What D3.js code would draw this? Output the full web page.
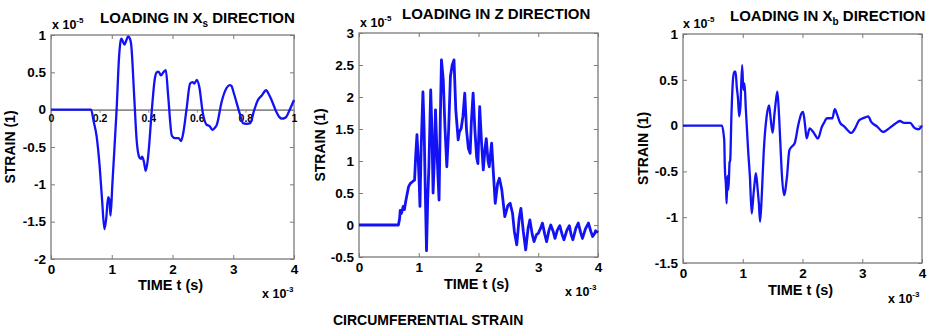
<!DOCTYPE html>
<html><head><meta charset="utf-8">
<script src="https://cdn.jsdelivr.net/npm/d3@7"></script>
<style>
body{margin:0;background:#fff;}
svg text{font-family:"Liberation Sans",Arial,Helvetica,sans-serif;font-weight:bold;fill:#000;}
</style></head>
<body><svg id="c" width="931" height="329"></svg>
<script>
// ---- DATA (time in ms i.e. x10^-3 s, strain in x10^-5) ----
const xTicks = [0, 1, 2, 3, 4];
const innerTicks = [0, 0.2, 0.4, 0.6, 0.8, 1];

const xsTime = [0,0.66,0.70,0.75,0.80,0.84,0.88,0.91,0.94,0.96,0.98,1.01,1.03,1.08,1.12,1.14,1.16,1.18,1.21,1.24,1.27,1.30,1.32,1.37,1.41,1.45,1.48,1.50,1.53,1.56,1.60,1.66,1.71,1.74,1.77,1.81,1.85,1.89,1.93,1.99,2.04,2.10,2.14,2.18,2.23,2.29,2.33,2.36,2.40,2.44,2.50,2.56,2.61,2.66,2.70,2.73,2.81,2.89,2.94,2.97,3.01,3.11,3.16,3.22,3.28,3.34,3.40,3.47,3.54,3.59,3.63,3.71,3.76,3.80,3.85,3.87,3.93,4.0];
const xsStrain = [0,0,-0.15,-0.35,-0.75,-1.2,-1.60,-1.45,-1.17,-1.2,-1.42,-1.0,-0.72,0.0,0.7,0.89,0.95,0.92,0.87,0.93,0.98,0.95,0.87,0.17,-0.41,-0.63,-0.66,-0.63,-0.70,-0.82,-0.62,0.0,0.42,0.50,0.51,0.46,0.50,0.53,0.17,-0.35,-0.38,-0.38,-0.42,-0.3,0.0,0.35,0.37,0.35,0.40,0.31,-0.05,-0.2,-0.22,-0.27,-0.24,-0.2,0.11,0.29,0.33,0.32,0.22,-0.06,-0.18,-0.19,-0.18,-0.02,0.12,0.19,0.26,0.2,0.13,-0.03,-0.1,-0.12,-0.11,-0.10,0.0,0.13];
const xsTicksY = [-2, -1.5, -1, -0.5, 0, 0.5, 1];

const zTime = [0,0.66,0.68,0.69,0.71,0.74,0.76,0.78,0.83,0.86,0.90,0.93,0.95,0.97,0.99,1.01,1.02,1.04,1.07,1.09,1.11,1.13,1.15,1.17,1.20,1.22,1.24,1.26,1.28,1.30,1.32,1.34,1.36,1.38,1.41,1.44,1.47,1.50,1.53,1.56,1.59,1.62,1.66,1.68,1.71,1.74,1.77,1.80,1.83,1.86,1.88,1.91,1.94,1.97,1.99,2.02,2.05,2.08,2.11,2.13,2.16,2.18,2.20,2.22,2.25,2.28,2.32,2.35,2.39,2.44,2.49,2.53,2.57,2.60,2.64,2.68,2.71,2.75,2.79,2.83,2.86,2.90,2.93,2.97,3.00,3.04,3.07,3.11,3.14,3.18,3.21,3.25,3.28,3.32,3.36,3.40,3.43,3.48,3.52,3.55,3.58,3.63,3.67,3.71,3.74,3.79,3.84,3.88,3.91,3.94,3.96,4.0];
const zStrain = [0,0,0.1,0.23,0.18,0.29,0.24,0.36,0.6,0.65,0.68,0.7,1.1,1.41,1.06,0.6,0.29,1.2,2.08,1.5,0.5,-0.40,0.4,0.91,2.11,1.5,0.5,1.0,1.8,1.28,0.8,0.39,1.6,2.58,2.27,1.5,0.91,1.48,2.32,2.5,2.58,1.8,1.33,1.45,1.51,1.7,2.06,1.48,1.2,1.12,1.6,2.06,1.48,1.05,0.96,1.85,1.3,0.86,1.2,1.35,1.0,0.91,1.1,1.28,0.8,0.34,0.65,0.73,0.55,0.13,0.3,0.34,0.18,-0.1,-0.31,0.1,0.26,-0.1,-0.39,-0.05,0.08,-0.15,-0.26,-0.15,-0.13,-0.05,0.03,-0.15,-0.26,-0.08,0.0,-0.1,-0.21,-0.08,-0.01,-0.15,-0.23,-0.08,-0.01,-0.15,-0.23,-0.05,0.03,-0.12,-0.21,-0.06,0.03,-0.1,-0.18,-0.14,-0.09,-0.12];
const zTicksY = [-0.5, 0, 0.5, 1, 1.5, 2, 2.5, 3];

const xbTime = [0,0.65,0.69,0.70,0.72,0.73,0.745,0.76,0.78,0.79,0.81,0.84,0.86,0.88,0.90,0.92,0.94,0.96,0.99,1.01,1.03,1.05,1.09,1.12,1.15,1.18,1.20,1.22,1.25,1.27,1.29,1.32,1.35,1.40,1.44,1.46,1.50,1.53,1.56,1.58,1.60,1.63,1.65,1.69,1.74,1.78,1.82,1.87,1.93,1.98,2.01,2.04,2.07,2.12,2.18,2.26,2.32,2.36,2.41,2.50,2.54,2.58,2.63,2.70,2.82,2.88,2.95,3.05,3.10,3.15,3.25,3.35,3.45,3.55,3.63,3.70,3.80,3.88,3.94,4.0];
const xbStrain = [0,0,-0.16,-0.45,-0.67,-0.85,-0.55,-0.7,-0.4,-0.38,0.10,0.53,0.59,0.59,0.42,0.3,0.10,0.2,0.66,0.39,0.46,0.2,-0.27,-0.56,-0.96,-0.75,-0.62,-0.52,-0.70,-0.85,-1.05,-0.74,-0.30,0.10,0.22,0.12,-0.08,0.12,0.3,0.37,0.2,-0.2,-0.48,-0.76,-0.56,-0.27,-0.23,-0.19,0.01,0.13,0.15,0.02,-0.14,-0.03,-0.07,-0.14,-0.02,0.03,0.08,0.08,0.18,0.12,0.03,-0.01,-0.08,-0.03,0.06,0.09,0.10,0.04,-0.01,-0.07,-0.03,0.02,0.05,0.03,0.03,-0.03,-0.04,0.0];
const xbTicksY = [-1.5, -1, -0.5, 0, 0.5, 1];

const titles = [["LOADING IN X", "s", " DIRECTION"], ["LOADING IN Z DIRECTION", "", ""], ["LOADING IN X", "b", " DIRECTION"]];
const yLabel = "STRAIN (1)";
const xLabel = "TIME t (s)";
const bottomCaption = "CIRCUMFERENTIAL STRAIN";

// ---- LAYOUT ----
const panels = [
  {time: xsTime, strain: xsStrain, yt: xsTicksY, ydom:[-2,1], L:51, R:294, T:35, B:259, title:titles[0], tx:100, ty:23, mx:52, my:29, ex:262, ey:298, xlY:290, ylX:10, curve:d3.curveMonotoneX, inner:true, sw:2.3},
  {time: zTime, strain: zStrain, yt: zTicksY, ydom:[-0.5,3], L:359, R:598, T:33, B:257, title:titles[1], tx:402, ty:19, mx:360, my:27, ex:565, ey:296, xlY:289, ylX:320, curve:d3.curveLinear, inner:false, sw:2.8},
  {time: xbTime, strain: xbStrain, yt: xbTicksY, ydom:[-1.5,1], L:683, R:922, T:34, B:263, title:titles[2], tx:730, ty:21, mx:683, my:28, ex:888, ey:303, xlY:295, ylX:643, curve:d3.curveMonotoneX, inner:false, sw:2.3}
];

const svg = d3.select("#c");
const frameCol = "#7a7a7a";
const lineCol = "#1212f5";

panels.forEach(p => {
  const x = d3.scaleLinear().domain([0,4]).range([p.L, p.R]);
  const y = d3.scaleLinear().domain(p.ydom).range([p.B, p.T]);
  const g = svg.append("g");

  g.append("rect").attr("x", p.L).attr("y", p.T).attr("width", p.R-p.L).attr("height", p.B-p.T)
    .attr("fill","none").attr("stroke", frameCol).attr("stroke-width", 1.3);

  const styleAxis = (sel, fs) => {
    sel.select(".domain").remove();
    sel.selectAll(".tick line").attr("stroke", frameCol).attr("stroke-width", 1);
    sel.selectAll(".tick text").style("font-size", fs).style("font-family","Liberation Sans, Arial, sans-serif").style("font-weight","bold").attr("fill","#000");
  };

  const ya = g.append("g").attr("transform", `translate(${p.L},0)`)
    .call(d3.axisLeft(y).tickValues(p.yt).tickSizeInner(-4).tickSizeOuter(0).tickPadding(5).tickFormat(d => String(d)));
  styleAxis(ya, "13.5px");
  const yr = g.append("g").attr("transform", `translate(${p.R},0)`)
    .call(d3.axisRight(y).tickValues(p.yt).tickSizeInner(-4).tickSizeOuter(0).tickFormat(""));
  styleAxis(yr, "1px");
  const xa = g.append("g").attr("transform", `translate(0,${p.B})`)
    .call(d3.axisBottom(x).tickValues(xTicks).tickSizeInner(-4).tickSizeOuter(0).tickPadding(5).tickFormat(d => String(d)));
  styleAxis(xa, "13.5px");
  const xt = g.append("g").attr("transform", `translate(0,${p.T})`)
    .call(d3.axisTop(x).tickValues(xTicks).tickSizeInner(-4).tickSizeOuter(0).tickFormat(""));
  styleAxis(xt, "1px");

  if (p.inner) {
    const xi = d3.scaleLinear().domain([0,1]).range([p.L, p.R]);
    const ia = g.append("g").attr("transform", `translate(0,${y(0)})`)
      .call(d3.axisBottom(xi).tickValues(innerTicks).tickSizeInner(3).tickSizeOuter(0).tickPadding(2).tickFormat(d => String(d)));
    ia.select(".domain").attr("stroke", "#8a8a8a").attr("stroke-width", 1.6);
    ia.selectAll(".tick line").attr("stroke", "#8a8a8a");
    ia.selectAll(".tick text").style("font-size","10.5px").style("font-weight","bold").attr("fill","#555");
  }

  const data = p.time.map((t,i) => [t, p.strain[i]]);
  g.append("path").datum(data)
    .attr("d", d3.line().x(d => x(d[0])).y(d => y(d[1])).curve(p.curve))
    .attr("fill","none").attr("stroke", lineCol).attr("stroke-width", p.sw).attr("stroke-linejoin","round");

  const tt = svg.append("text").attr("x", p.tx).attr("y", p.ty).style("font-size","15px");
  tt.append("tspan").text(p.title[0]);
  if (p.title[1]) {
    tt.append("tspan").attr("dy", 4).style("font-size","10px").text(p.title[1]);
    tt.append("tspan").attr("dy", -4).text(p.title[2]);
  }

  const m = svg.append("text").attr("x", p.mx).attr("y", p.my).style("font-size","12.5px");
  m.append("tspan").text("x 10");
  m.append("tspan").attr("dy", -6).style("font-size","8px").text("-5");
  const e = svg.append("text").attr("x", p.ex).attr("y", p.ey).style("font-size","12.5px");
  e.append("tspan").text("x 10");
  e.append("tspan").attr("dy", -6).style("font-size","8px").text("-3");

  svg.append("text").attr("x", (p.L+p.R)/2 - 2).attr("y", p.xlY).attr("text-anchor","middle")
    .style("font-size","14.5px").text(xLabel);
  svg.append("text").attr("transform", `translate(${p.ylX},${(p.T+p.B)/2}) rotate(-90)`)
    .attr("text-anchor","middle").attr("dominant-baseline","central").style("font-size","14px").text(yLabel);
});

svg.append("text").attr("x", 333).attr("y", 325).style("font-size","14px").text(bottomCaption);
</script>
</body></html>
